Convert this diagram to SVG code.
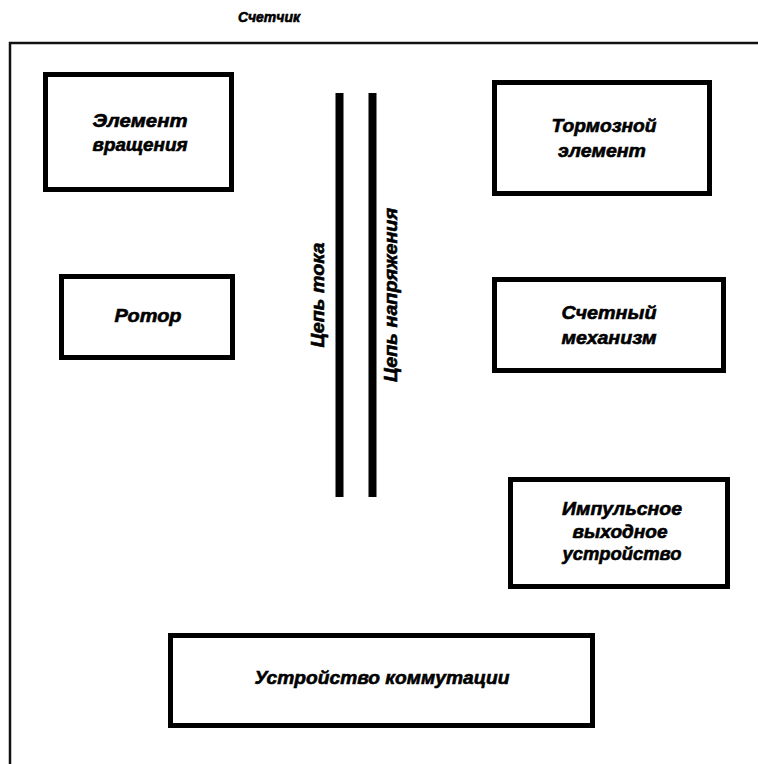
<svg xmlns="http://www.w3.org/2000/svg" width="758" height="764" viewBox="0 0 758 764">
<style>
.box{fill:#fff;stroke:#000;stroke-width:5}
.t{font-family:"Liberation Sans",Arial,sans-serif;font-weight:bold;font-style:italic;font-size:19px;fill:#000;stroke:#000;stroke-width:0.6;text-anchor:middle}
.frame{fill:none;stroke:#111;stroke-width:2.5}
.wire{stroke:#000;stroke-width:8}
</style>
<rect width="758" height="764" fill="#fff"/>
<g id="frame">
<rect class="frame" x="10" y="43" width="800" height="800"/>
<text class="t" x="269" y="22" style="font-size:14px" textLength="62" lengthAdjust="spacingAndGlyphs">Счетчик</text>
</g>
<g id="rotation-element">
<rect class="box" x="45.5" y="74.5" width="186" height="115"/>
<text class="t" x="140" y="127" textLength="95" lengthAdjust="spacingAndGlyphs">Элемент</text>
<text class="t" x="140" y="151" textLength="95" lengthAdjust="spacingAndGlyphs">вращения</text>
</g>
<g id="brake-element">
<rect class="box" x="494.5" y="82.5" width="215" height="111"/>
<text class="t" x="604" y="132" textLength="105" lengthAdjust="spacingAndGlyphs">Тормозной</text>
<text class="t" x="602" y="157" textLength="88" lengthAdjust="spacingAndGlyphs">элемент</text>
</g>
<g id="rotor">
<rect class="box" x="61.5" y="276.5" width="171" height="81"/>
<text class="t" x="148" y="322" textLength="67" lengthAdjust="spacingAndGlyphs">Ротор</text>
</g>
<g id="counting-mechanism">
<rect class="box" x="494.5" y="279.5" width="229" height="91"/>
<text class="t" x="609" y="319" textLength="95" lengthAdjust="spacingAndGlyphs">Счетный</text>
<text class="t" x="609" y="344" textLength="95" lengthAdjust="spacingAndGlyphs">механизм</text>
</g>
<g id="pulse-output">
<rect class="box" x="510.5" y="479.5" width="217" height="107"/>
<text class="t" x="622" y="515" textLength="120" lengthAdjust="spacingAndGlyphs">Импульсное</text>
<text class="t" x="620" y="538" textLength="95" lengthAdjust="spacingAndGlyphs">выходное</text>
<text class="t" x="622" y="560" textLength="119" lengthAdjust="spacingAndGlyphs">устройство</text>
</g>
<g id="switching-device">
<rect class="box" x="170.5" y="635.5" width="422" height="90"/>
<text class="t" x="382" y="684" textLength="255" lengthAdjust="spacingAndGlyphs">Устройство коммутации</text>
</g>
<g id="connectors">
<line class="wire" x1="339.5" y1="93" x2="339.5" y2="497"/>
<line class="wire" x1="372.5" y1="93" x2="372.5" y2="497"/>
</g>
<g id="circuit-labels">
<text class="t" transform="translate(324 295) rotate(-90)" textLength="105" lengthAdjust="spacingAndGlyphs">Цепь тока</text>
<text class="t" transform="translate(397 295) rotate(-90)" textLength="174" lengthAdjust="spacingAndGlyphs">Цепь напряжения</text>
</g>
</svg>
